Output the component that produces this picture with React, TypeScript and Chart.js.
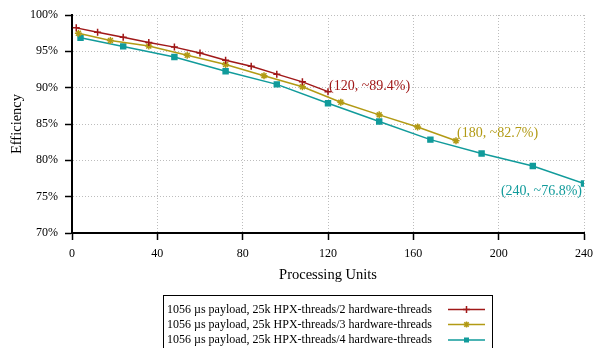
import React, { useEffect, useRef } from 'react';
import { Chart, registerables } from 'chart.js';

Chart.register(...registerables);

const redX = [2, 12, 24, 36, 48, 60, 72, 84, 96, 108, 120];
const redY = [98.23, 97.63, 96.94, 96.22, 95.58, 94.76, 93.77, 92.95, 91.86, 90.8, 89.45];
const goldX = [3, 18, 36, 54, 72, 90, 108, 126, 144, 162, 180];
const goldY = [97.49, 96.49, 95.72, 94.45, 93.18, 91.65, 90.12, 88.0, 86.26, 84.58, 82.7];
const tealX = [4, 24, 48, 72, 96, 120, 144, 168, 192, 216, 240];
const tealY = [96.86, 95.68, 94.22, 92.26, 90.45, 87.86, 85.35, 82.85, 80.94, 79.21, 76.8];

const seriesLabels = [
  '1056 µs payload, 25k HPX-threads/2 hardware-threads',
  '1056 µs payload, 25k HPX-threads/3 hardware-threads',
  '1056 µs payload, 25k HPX-threads/4 hardware-threads',
];
const endLabels = ['(120, ~89.4%)', '(180, ~82.7%)', '(240, ~76.8%)'];

const xMin = 0;
const xMax = 240;
const xStep = 40;
const yMin = 70;
const yMax = 100;
const yStep = 5;

const COLORS = ['#a01818', '#b29a14', '#119b9b'];
const FONT = '"Liberation Serif", "Times New Roman", serif';

const toPts = (xs: number[], ys: number[]) => xs.map((x, i) => ({ x, y: ys[i] }));

function drawMarker(ctx: CanvasRenderingContext2D, style: string, x: number, y: number, color: string) {
  ctx.save();
  ctx.strokeStyle = color;
  ctx.fillStyle = color;
  ctx.lineWidth = 1.5;
  ctx.beginPath();
  if (style === 'cross') {
    ctx.moveTo(x - 3.5, y); ctx.lineTo(x + 3.5, y);
    ctx.moveTo(x, y - 3.5); ctx.lineTo(x, y + 3.5);
    ctx.stroke();
  } else if (style === 'star') {
    ctx.moveTo(x - 3, y); ctx.lineTo(x + 3, y);
    ctx.moveTo(x, y - 3); ctx.lineTo(x, y + 3);
    ctx.moveTo(x - 2.2, y - 2.2); ctx.lineTo(x + 2.2, y + 2.2);
    ctx.moveTo(x - 2.2, y + 2.2); ctx.lineTo(x + 2.2, y - 2.2);
    ctx.stroke();
  } else {
    ctx.fillRect(x - 2.5, y - 2.5, 5, 5);
  }
  ctx.restore();
}

const styles = ['cross', 'star', 'rect'];

const overlayPlugin = {
  id: 'overlay',
  afterDatasetsDraw(chart: any) {
    const ctx: CanvasRenderingContext2D = chart.ctx;
    const xs = chart.scales.x;
    const ys = chart.scales.y;
    ctx.save();
    ctx.font = `14px ${FONT}`;
    const last = [
      { x: redX[redX.length - 1], y: redY[redY.length - 1] },
      { x: goldX[goldX.length - 1], y: goldY[goldY.length - 1] },
      { x: tealX[tealX.length - 1], y: tealY[tealY.length - 1] },
    ];
    ctx.fillStyle = COLORS[0];
    ctx.textAlign = 'left';
    ctx.textBaseline = 'middle';
    ctx.fillText(endLabels[0], xs.getPixelForValue(last[0].x) + 1, ys.getPixelForValue(last[0].y) - 5);
    ctx.fillStyle = COLORS[1];
    ctx.fillText(endLabels[1], xs.getPixelForValue(last[1].x) + 1, ys.getPixelForValue(last[1].y) - 7);
    ctx.fillStyle = COLORS[2];
    ctx.textAlign = 'right';
    ctx.fillText(endLabels[2], xs.getPixelForValue(last[2].x) - 2, ys.getPixelForValue(last[2].y) + 7.5);
    ctx.restore();
  },
  afterDraw(chart: any) {
    const ctx: CanvasRenderingContext2D = chart.ctx;
    ctx.save();
    ctx.strokeStyle = '#000';
    ctx.lineWidth = 1;
    ctx.strokeRect(163.5, 295.5, 329, 60);
    ctx.font = `12px ${FONT}`;
    ctx.fillStyle = '#000';
    ctx.textAlign = 'left';
    ctx.textBaseline = 'middle';
    const rows = [309.5, 324.5, 340];
    chart.data.datasets.forEach((ds: any, i: number) => {
      const y = rows[i];
      ctx.fillStyle = '#000';
      ctx.fillText(ds.label, 167, y);
      ctx.strokeStyle = COLORS[i];
      ctx.lineWidth = 1.5;
      ctx.beginPath();
      ctx.moveTo(448, y);
      ctx.lineTo(485, y);
      ctx.stroke();
      drawMarker(ctx, styles[i], 466.5, y, COLORS[i]);
    });
    ctx.restore();
  },
};

export default function App() {
  const ref = useRef<HTMLCanvasElement | null>(null);
  useEffect(() => {
    if (!ref.current) return;
    Chart.defaults.font.family = FONT;
    Chart.defaults.color = '#000';
    const datasets = [
      { x: redX, y: redY },
      { x: goldX, y: goldY },
      { x: tealX, y: tealY },
    ].map((s, i) => ({
      label: seriesLabels[i],
      data: toPts(s.x, s.y),
      borderColor: COLORS[i],
      backgroundColor: COLORS[i],
      borderWidth: 1.5,
      pointStyle: styles[i] as any,
      pointRadius: 3.5,
      pointBorderWidth: 1.5,
      pointBorderColor: COLORS[i],
      pointBackgroundColor: COLORS[i],
      tension: 0,
      fill: false,
    }));
    const chart = new Chart(ref.current, {
      type: 'line',
      data: { datasets },
      options: {
        animation: false,
        responsive: false,
        layout: { padding: { top: 15, right: 10, left: 0, bottom: 62 } },
        plugins: { legend: { display: false }, tooltip: { enabled: false } },
        scales: {
          x: {
            type: 'linear',
            min: xMin,
            max: xMax,
            afterFit: (s: any) => { s.height = 53; s.paddingRight = 0; s.paddingLeft = 0; },
            ticks: { stepSize: xStep, padding: 7, font: { size: 12, family: FONT }, color: '#000' },
            grid: { color: '#bdbdbd', lineWidth: 1, tickColor: '#000', tickLength: 7, tickWidth: 1.5 },
            border: { color: '#000', width: 2, dash: [1, 2] },
            title: { display: true, text: 'Processing Units', font: { size: 14.5, family: FONT }, color: '#000', padding: { top: 0, bottom: 2 } },
          },
          y: {
            type: 'linear',
            min: yMin,
            max: yMax,
            afterFit: (s: any) => { s.width = 72; s.paddingTop = 0; s.paddingBottom = 0; },
            ticks: { stepSize: yStep, padding: 7, font: { size: 12, family: FONT }, color: '#000', callback: (v: any) => `${v}%` },
            grid: { color: '#bdbdbd', lineWidth: 1, tickColor: '#000', tickLength: 7, tickWidth: 1.5 },
            border: { color: '#000', width: 2, dash: [1, 2] },
            title: { display: true, text: 'Efficiency', font: { size: 14.5, family: FONT }, color: '#000', padding: { top: 8, bottom: 0 } },
          },
        },
      },
      plugins: [overlayPlugin],
    });
    return () => chart.destroy();
  }, []);
  return (
    <div style={{ position: 'fixed', left: 0, top: 0, width: 594, height: 348, background: '#fff' }}>
      <canvas ref={ref} width={594} height={348} style={{ display: 'block' }} />
    </div>
  );
}
